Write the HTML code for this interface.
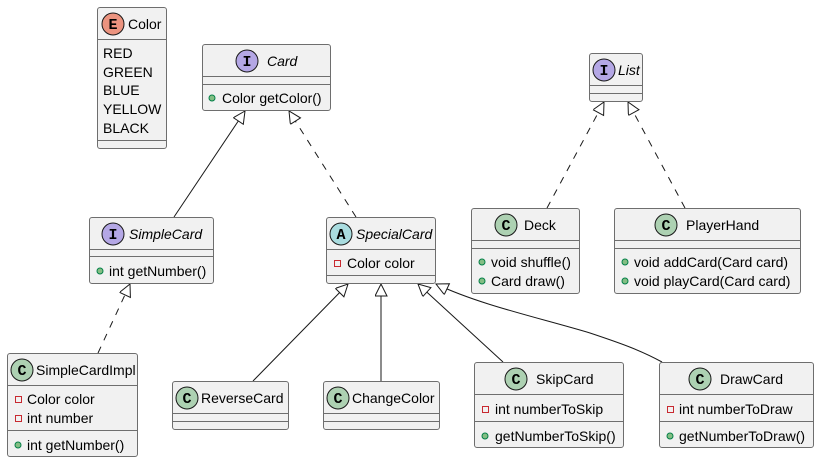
<!DOCTYPE html>
<html><head><meta charset="utf-8"><style>
html,body{margin:0;padding:0;background:#fff;}
svg{display:block;}
text{font-family:"Liberation Sans",sans-serif;font-size:14px;fill:#000;}
.b{fill:#F1F1F1;stroke:#6e6e6e;stroke-width:1;}
.s{stroke:#6e6e6e;stroke-width:1;}
.e{stroke:#181818;stroke-width:1;fill:none;}
.d{stroke-dasharray:7,7;}
.ic{stroke:#181818;stroke-width:1;}
.lt{font-family:"Liberation Mono",monospace;font-weight:bold;font-size:15px;text-anchor:middle;}
.pub{fill:#84BE84;stroke:#038048;stroke-width:1;}
.pri{fill:none;stroke:#C82930;stroke-width:1;}
</style></head><body>
<svg width="819" height="462" viewBox="0 0 819 462" xmlns="http://www.w3.org/2000/svg">
<defs>
<marker id="a" markerWidth="14" markerHeight="14" refX="13" refY="6" orient="auto" markerUnits="userSpaceOnUse">
<path d="M1,0 L13,6 L1,12 Z" fill="#fff" stroke="#181818" stroke-width="1"/>
</marker>
</defs>

<line class="e" x1="174" y1="217" x2="245" y2="111" marker-end="url(#a)"/>
<line class="e d" x1="356" y1="217" x2="289" y2="111" marker-end="url(#a)"/>
<line class="e d" x1="98" y1="353" x2="130" y2="284" marker-end="url(#a)"/>
<line class="e" x1="253" y1="381" x2="348" y2="284" marker-end="url(#a)"/>
<line class="e" x1="381" y1="381" x2="381" y2="284" marker-end="url(#a)"/>
<line class="e" x1="503" y1="362" x2="418" y2="284" marker-end="url(#a)"/>
<path class="e" d="M662,362 C640,350 620,343 590,333 C540,318 480,305 436,284" marker-end="url(#a)"/>
<line class="e d" x1="547" y1="208" x2="604" y2="102" marker-end="url(#a)"/>
<line class="e d" x1="685" y1="208" x2="628" y2="102" marker-end="url(#a)"/>

<rect class="b" x="97.5" y="7.5" width="69" height="141" rx="2.5"/>
<line class="s" x1="97.5" y1="39.5" x2="166.5" y2="39.5"/>
<line class="s" x1="97.5" y1="140.5" x2="166.5" y2="140.5"/>
<circle class="ic" cx="113" cy="24" r="11" fill="#EB937F"/><text class="lt" x="113" y="29">E</text>
<text x="128" y="29">Color</text>
<text x="103" y="58">RED</text><text x="103" y="77">GREEN</text><text x="103" y="95">BLUE</text><text x="103" y="114">YELLOW</text><text x="103" y="133">BLACK</text>

<rect class="b" x="202.5" y="44.5" width="128" height="66" rx="2.5"/>
<line class="s" x1="202.5" y1="76.5" x2="330.5" y2="76.5"/>
<line class="s" x1="202.5" y1="84.5" x2="330.5" y2="84.5"/>
<circle class="ic" cx="247" cy="61" r="11" fill="#B4A7E5"/><text class="lt" x="247" y="66">I</text>
<text x="267" y="66" font-style="italic">Card</text>
<circle class="pub" cx="212" cy="98" r="3"/><text x="222" y="103">Color getColor()</text>

<rect class="b" x="589.5" y="53.5" width="53" height="48" rx="2.5"/>
<line class="s" x1="589.5" y1="85.5" x2="642.5" y2="85.5"/>
<line class="s" x1="589.5" y1="93.5" x2="642.5" y2="93.5"/>
<circle class="ic" cx="604" cy="70" r="11" fill="#B4A7E5"/><text class="lt" x="604" y="75">I</text>
<text x="618" y="75" font-style="italic">List</text>

<rect class="b" x="89.5" y="217.5" width="124" height="66" rx="2.5"/>
<line class="s" x1="89.5" y1="249.5" x2="213.5" y2="249.5"/>
<line class="s" x1="89.5" y1="256.5" x2="213.5" y2="256.5"/>
<circle class="ic" cx="113" cy="234" r="11" fill="#B4A7E5"/><text class="lt" x="113" y="239">I</text>
<text x="129" y="239" font-style="italic">SimpleCard</text>
<circle class="pub" cx="100" cy="271" r="3"/><text x="109" y="276">int getNumber()</text>

<rect class="b" x="326.5" y="217.5" width="109" height="66" rx="2.5"/>
<line class="s" x1="326.5" y1="249.5" x2="435.5" y2="249.5"/>
<line class="s" x1="326.5" y1="275.5" x2="435.5" y2="275.5"/>
<circle class="ic" cx="341" cy="234" r="11" fill="#A9DCDF"/><text class="lt" x="341" y="239">A</text>
<text x="356" y="239" font-style="italic">SpecialCard</text>
<rect class="pri" x="334.5" y="260.5" width="6" height="6"/><text x="347" y="268">Color color</text>

<rect class="b" x="471.5" y="208.5" width="108" height="85" rx="2.5"/>
<line class="s" x1="471.5" y1="240.5" x2="579.5" y2="240.5"/>
<line class="s" x1="471.5" y1="248.5" x2="579.5" y2="248.5"/>
<circle class="ic" cx="506" cy="225" r="11" fill="#ADD1B2"/><text class="lt" x="506" y="230">C</text>
<text x="524" y="230">Deck</text>
<circle class="pub" cx="482" cy="262" r="3"/><text x="491" y="267">void shuffle()</text>
<circle class="pub" cx="482" cy="281" r="3"/><text x="491" y="286">Card draw()</text>

<rect class="b" x="614.5" y="208.5" width="186" height="85" rx="2.5"/>
<line class="s" x1="614.5" y1="240.5" x2="800.5" y2="240.5"/>
<line class="s" x1="614.5" y1="248.5" x2="800.5" y2="248.5"/>
<circle class="ic" cx="666" cy="225" r="11" fill="#ADD1B2"/><text class="lt" x="666" y="230">C</text>
<text x="686" y="230">PlayerHand</text>
<circle class="pub" cx="625" cy="262" r="3"/><text x="634" y="267">void addCard(Card card)</text>
<circle class="pub" cx="625" cy="281" r="3"/><text x="634" y="286">void playCard(Card card)</text>

<rect class="b" x="7.5" y="353.5" width="130" height="103" rx="2.5"/>
<line class="s" x1="7.5" y1="385.5" x2="137.5" y2="385.5"/>
<line class="s" x1="7.5" y1="430.5" x2="137.5" y2="430.5"/>
<circle class="ic" cx="22" cy="370" r="11" fill="#ADD1B2"/><text class="lt" x="22" y="375">C</text>
<text x="36" y="375">SimpleCardImpl</text>
<rect class="pri" x="15.5" y="396.5" width="6" height="6"/><text x="27" y="404">Color color</text>
<rect class="pri" x="15.5" y="415.5" width="6" height="6"/><text x="27" y="423">int number</text>
<circle class="pub" cx="18" cy="445" r="3"/><text x="27" y="450">int getNumber()</text>

<rect class="b" x="172.5" y="381.5" width="116" height="48" rx="2.5"/>
<line class="s" x1="172.5" y1="413.5" x2="288.5" y2="413.5"/>
<line class="s" x1="172.5" y1="421.5" x2="288.5" y2="421.5"/>
<circle class="ic" cx="187" cy="398" r="11" fill="#ADD1B2"/><text class="lt" x="187" y="403">C</text>
<text x="201" y="403">ReverseCard</text>

<rect class="b" x="323.5" y="381.5" width="116" height="48" rx="2.5"/>
<line class="s" x1="323.5" y1="413.5" x2="439.5" y2="413.5"/>
<line class="s" x1="323.5" y1="421.5" x2="439.5" y2="421.5"/>
<circle class="ic" cx="338" cy="398" r="11" fill="#ADD1B2"/><text class="lt" x="338" y="403">C</text>
<text x="352" y="403">ChangeColor</text>

<rect class="b" x="474.5" y="362.5" width="149" height="85" rx="2.5"/>
<line class="s" x1="474.5" y1="394.5" x2="623.5" y2="394.5"/>
<line class="s" x1="474.5" y1="421.5" x2="623.5" y2="421.5"/>
<circle class="ic" cx="516" cy="379" r="11" fill="#ADD1B2"/><text class="lt" x="516" y="384">C</text>
<text x="536" y="384">SkipCard</text>
<rect class="pri" x="482.5" y="406.5" width="6" height="6"/><text x="495" y="414">int numberToSkip</text>
<circle class="pub" cx="485" cy="436" r="3"/><text x="495" y="441">getNumberToSkip()</text>

<rect class="b" x="659.5" y="362.5" width="154" height="85" rx="2.5"/>
<line class="s" x1="659.5" y1="394.5" x2="813.5" y2="394.5"/>
<line class="s" x1="659.5" y1="421.5" x2="813.5" y2="421.5"/>
<circle class="ic" cx="700" cy="379" r="11" fill="#ADD1B2"/><text class="lt" x="700" y="384">C</text>
<text x="720" y="384">DrawCard</text>
<rect class="pri" x="667.5" y="406.5" width="6" height="6"/><text x="679" y="414">int numberToDraw</text>
<circle class="pub" cx="670" cy="436" r="3"/><text x="679" y="441">getNumberToDraw()</text>
</svg>
</body></html>
